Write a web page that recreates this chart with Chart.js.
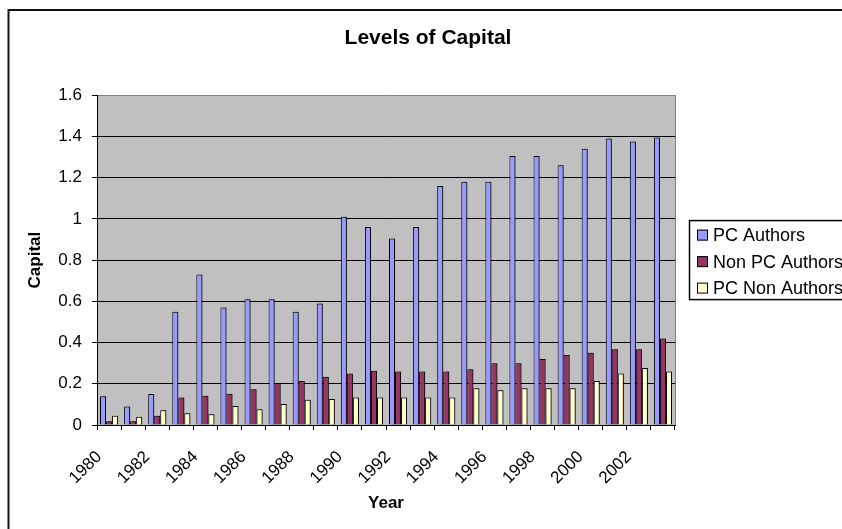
<!DOCTYPE html>
<html>
<head>
<meta charset="utf-8">
<script src="https://cdn.jsdelivr.net/npm/chart.js@4/dist/chart.umd.min.js"></script>
<style>
  html, body { margin: 0; padding: 0; background: #fff; overflow: hidden; }
</style>
</head>
<body>
<canvas id="capitalChart" width="842" height="529"></canvas>
<script>
// Data
const years = ['1980', '1981', '1982', '1983', '1984', '1985', '1986', '1987', '1988', '1989', '1990', '1991',
    '1992', '1993', '1994', '1995', '1996', '1997', '1998', '1999', '2000', '2001', '2002', '2003'];
const pcAuthors = [0.14, 0.09, 0.15, 0.55, 0.73, 0.57, 0.61, 0.61, 0.55, 0.59, 1.01, 0.96,
    0.905, 0.96, 1.16, 1.18, 1.18, 1.305, 1.305, 1.26, 1.34, 1.39, 1.375, 1.395];
const nonPcAuthors = [0.018, 0.018, 0.045, 0.133, 0.142, 0.152, 0.173, 0.204, 0.213, 0.234, 0.25, 0.263,
    0.26, 0.26, 0.26, 0.27, 0.3, 0.3, 0.32, 0.34, 0.35, 0.367, 0.367, 0.42];
const pcNonAuthors = [0.045, 0.04, 0.071, 0.057, 0.052, 0.092, 0.076, 0.102, 0.123, 0.126, 0.133, 0.133,
    0.133, 0.133, 0.133, 0.178, 0.168, 0.178, 0.178, 0.178, 0.213, 0.25, 0.276, 0.26];
const seriesNames = ['PC Authors', 'Non PC Authors', 'PC Non Authors'];
const seriesColors = ['#9999FF', '#993366', '#FFFFCC'];

const FONT = "'Liberation Sans', Arial, sans-serif";

// Gray plot area and the outer chart frame (its right edge is off the page)
const backgroundPlugin = {
    id: 'background',
    beforeDraw(chart) {
        const { ctx, chartArea: a } = chart;
        ctx.save();
        ctx.fillStyle = '#fff';
        ctx.fillRect(0, 0, chart.width, chart.height);
        ctx.strokeStyle = '#111';
        ctx.lineWidth = 2;
        ctx.strokeRect(8.5, 10, chart.width + 20, chart.height + 20);
        ctx.fillStyle = '#C0C0C0';
        ctx.fillRect(a.left, a.top, a.right - a.left, a.bottom - a.top);
        ctx.strokeStyle = '#808080';
        ctx.lineWidth = 1;
        ctx.beginPath();
        ctx.moveTo(a.right + 0.5, a.top);
        ctx.lineTo(a.right + 0.5, a.bottom);
        ctx.stroke();
        ctx.restore();
    }
};

// Small offset shadow on the bars, like the Excel original
const shadowPlugin = {
    id: 'barShadow',
    beforeDatasetsDraw(chart) {
        const ctx = chart.ctx;
        ctx.save();
        ctx.shadowColor = 'rgba(0, 0, 0, 0.45)';
        ctx.shadowOffsetX = 2;
        ctx.shadowOffsetY = 0;
        ctx.shadowBlur = 0;
    },
    afterDatasetsDraw(chart) {
        chart.ctx.restore();
    }
};

// Boxed legend to the right of the plot (runs off the edge like the reference)
const boxLegendPlugin = {
    id: 'boxLegend',
    afterDraw(chart) {
        const { ctx, chartArea: a } = chart;
        const left = a.right + 14;
        const mid = (a.top + a.bottom) / 2;
        const top = mid - 40;
        const rowH = 26.5;
        ctx.save();
        ctx.fillStyle = '#fff';
        ctx.fillRect(left, top, 200, 79);
        ctx.strokeStyle = '#000';
        ctx.lineWidth = 1.5;
        ctx.strokeRect(left + 0.5, top + 0.5, 200, 79);
        ctx.font = '18px ' + FONT;
        ctx.textBaseline = 'middle';
        chart.data.datasets.forEach((ds, i) => {
            const cy = top + 15 + i * rowH;
            ctx.fillStyle = ds.backgroundColor;
            ctx.fillRect(left + 8, cy - 5.5, 11, 11);
            ctx.strokeStyle = '#000';
            ctx.lineWidth = 1;
            ctx.strokeRect(left + 8.5, cy - 5, 10, 10);
            ctx.fillStyle = '#000';
            ctx.fillText(ds.label, left + 24, cy + 1);
        });
        ctx.restore();
    }
};

const datasets = [pcAuthors, nonPcAuthors, pcNonAuthors].map((values, i) => ({
    label: seriesNames[i],
    data: values,
    backgroundColor: seriesColors[i],
    borderColor: '#000',
    borderWidth: 1,
    categoryPercentage: 0.75,
    barPercentage: 1.0,
}));

new Chart(document.getElementById('capitalChart'), {
    type: 'bar',
    data: { labels: years, datasets: datasets },
    options: {
        responsive: false,
        animation: false,
        devicePixelRatio: 1,
        layout: { padding: { left: 14, right: 0, top: 0, bottom: 0 } },
        plugins: {
            legend: { display: false },
            tooltip: { enabled: false },
            title: {
                display: true,
                text: 'Levels of Capital',
                color: '#000',
                font: { family: FONT, size: 21, weight: 'bold' },
                padding: { top: 26, bottom: 44 },
            },
        },
        scales: {
            x: {
                afterFit: s => { s.height = 104; },
                grid: { drawOnChartArea: false, drawTicks: true, tickLength: 5, color: '#000', offset: true },
                border: { display: true, color: '#000' },
                ticks: {
                    autoSkip: false,
                    maxRotation: 45,
                    minRotation: 45,
                    padding: 17,
                    labelOffset: -10,
                    color: '#000',
                    font: { family: FONT, size: 17 },
                    callback: (val, i) => (i % 2 === 0 ? years[i] : ''),
                },
                title: {
                    display: true,
                    text: 'Year',
                    color: '#000',
                    font: { family: FONT, size: 17, weight: 'bold' },
                    padding: { top: 0, bottom: 15 },
                },
            },
            y: {
                min: 0,
                max: 1.6,
                afterFit: s => { s.width = 83; },
                grid: {
                    color: ctx => (ctx.tick && ctx.tick.value >= 1.6 ? '#808080' : '#000'),
                    tickColor: '#000',
                    tickLength: 5,
                },
                border: { display: true, color: '#000' },
                ticks: {
                    stepSize: 0.2,
                    padding: 10,
                    color: '#000',
                    font: { family: FONT, size: 17 },
                    callback: v => String(Math.round(v * 10) / 10),
                },
                title: {
                    display: true,
                    text: 'Capital',
                    color: '#000',
                    font: { family: FONT, size: 17, weight: 'bold' },
                    padding: { top: 11, bottom: 0 },
                },
            },
            // empty axis that only reserves room on the right for the legend
            spacer: {
                type: 'linear',
                position: 'right',
                display: true,
                grid: { display: false },
                border: { display: false },
                ticks: { display: false },
                afterFit: s => { s.width = 167; },
            },
        },
    },
    plugins: [backgroundPlugin, shadowPlugin, boxLegendPlugin],
});
</script>
</body>
</html>
